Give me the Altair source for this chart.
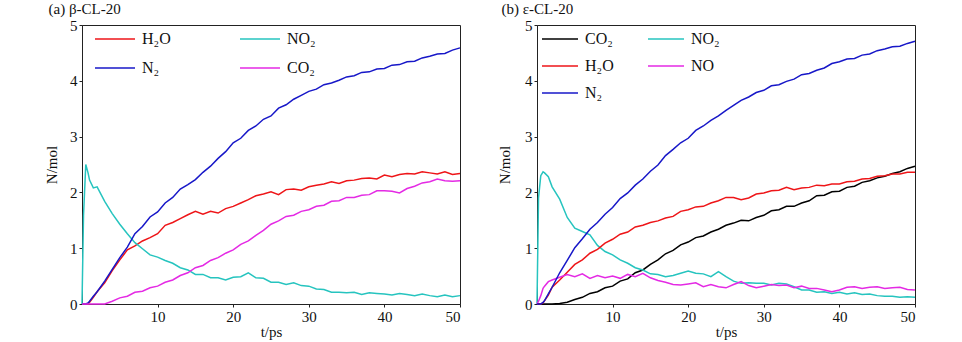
import altair as alt
import pandas as pd

# time grid (ps)
T = [0, 0.2, 0.5, 0.8, 1, 1.5, 2] + list(range(3, 51))

# ---- panel (a) beta-CL-20 ----
H2O_a = [0, 0, 0, 0, 0.03, 0.12, 0.22,
         0.38, 0.60, 0.79, 0.97, 1.04, 1.13, 1.19, 1.26, 1.41, 1.46,
         1.53, 1.60, 1.66, 1.61, 1.66, 1.63, 1.71, 1.75, 1.81, 1.87,
         1.94, 1.97, 2.01, 1.96, 2.05, 2.06, 2.04, 2.10, 2.13, 2.15,
         2.19, 2.16, 2.21, 2.22, 2.25, 2.26, 2.24, 2.31, 2.28, 2.32,
         2.34, 2.33, 2.37, 2.35, 2.33, 2.37, 2.32, 2.34]
N2_a = [0, 0, 0, 0.02, 0.05, 0.14, 0.22,
        0.41, 0.62, 0.83, 1.02, 1.26, 1.39, 1.56, 1.65, 1.81, 1.91,
        2.06, 2.14, 2.23, 2.36, 2.47, 2.61, 2.73, 2.89, 2.97, 3.11,
        3.19, 3.31, 3.37, 3.51, 3.57, 3.67, 3.74, 3.81, 3.85, 3.93,
        3.96, 4.01, 4.07, 4.09, 4.15, 4.16, 4.21, 4.22, 4.28, 4.29,
        4.34, 4.35, 4.41, 4.44, 4.48, 4.49, 4.55, 4.59]
NO2_a = [0, 1.58, 2.50, 2.35, 2.22, 2.08, 2.10,
         1.84, 1.62, 1.43, 1.26, 1.10, 0.99, 0.88, 0.84, 0.78, 0.73,
         0.65, 0.61, 0.53, 0.53, 0.47, 0.47, 0.43, 0.48, 0.49, 0.56,
         0.47, 0.46, 0.39, 0.39, 0.35, 0.38, 0.33, 0.32, 0.27, 0.26,
         0.21, 0.21, 0.20, 0.21, 0.17, 0.20, 0.19, 0.18, 0.16, 0.19,
         0.17, 0.15, 0.18, 0.15, 0.13, 0.16, 0.13, 0.15]
CO2_a = [0, 0, 0, 0, 0, 0, 0,
         0.00, 0.05, 0.11, 0.14, 0.21, 0.23, 0.29, 0.32, 0.39, 0.43,
         0.51, 0.56, 0.65, 0.69, 0.78, 0.83, 0.91, 0.97, 1.07, 1.13,
         1.23, 1.32, 1.43, 1.49, 1.57, 1.59, 1.66, 1.69, 1.75, 1.77,
         1.84, 1.85, 1.91, 1.91, 1.95, 1.96, 2.03, 2.03, 2.02, 1.99,
         2.07, 2.11, 2.17, 2.19, 2.24, 2.21, 2.20, 2.21]

# ---- panel (b) epsilon-CL-20 ----
CO2_b = [0, 0, 0, 0, 0, 0, 0,
         0.01, 0.03, 0.08, 0.12, 0.19, 0.22, 0.29, 0.32, 0.41, 0.45,
         0.56, 0.61, 0.71, 0.79, 0.90, 0.96, 1.06, 1.11, 1.19, 1.22,
         1.29, 1.34, 1.41, 1.45, 1.50, 1.49, 1.55, 1.59, 1.67, 1.69,
         1.75, 1.75, 1.81, 1.85, 1.94, 1.95, 2.01, 2.02, 2.09, 2.11,
         2.18, 2.21, 2.26, 2.29, 2.34, 2.37, 2.43, 2.47]
H2O_b = [0, 0, 0, 0.02, 0.06, 0.16, 0.30,
         0.43, 0.57, 0.71, 0.79, 0.91, 0.98, 1.09, 1.16, 1.25, 1.29,
         1.38, 1.41, 1.46, 1.49, 1.54, 1.57, 1.66, 1.69, 1.74, 1.75,
         1.81, 1.85, 1.91, 1.91, 1.87, 1.90, 1.97, 1.99, 2.03, 2.04,
         2.09, 2.05, 2.08, 2.09, 2.13, 2.12, 2.15, 2.15, 2.19, 2.20,
         2.24, 2.25, 2.29, 2.30, 2.33, 2.33, 2.36, 2.36]
N2_b = [0, 0, 0, 0.03, 0.06, 0.18, 0.30,
        0.56, 0.78, 1.01, 1.17, 1.34, 1.46, 1.61, 1.73, 1.89, 1.99,
        2.13, 2.24, 2.38, 2.49, 2.66, 2.77, 2.89, 2.97, 3.11, 3.19,
        3.29, 3.37, 3.47, 3.56, 3.65, 3.71, 3.79, 3.83, 3.91, 3.93,
        3.99, 4.03, 4.11, 4.13, 4.19, 4.23, 4.31, 4.34, 4.39, 4.40,
        4.46, 4.48, 4.54, 4.57, 4.61, 4.62, 4.67, 4.71]
NO2_b = [0, 1.90, 2.30, 2.37, 2.35, 2.28, 2.10,
         1.88, 1.55, 1.36, 1.30, 1.24, 1.05, 0.94, 0.88, 0.79, 0.73,
         0.65, 0.61, 0.54, 0.53, 0.49, 0.51, 0.55, 0.59, 0.55, 0.54,
         0.49, 0.58, 0.49, 0.41, 0.37, 0.38, 0.37, 0.37, 0.34, 0.37,
         0.36, 0.31, 0.25, 0.25, 0.21, 0.22, 0.19, 0.21, 0.18, 0.20,
         0.17, 0.18, 0.15, 0.14, 0.14, 0.12, 0.13, 0.12]
NO_b = [0, 0.05, 0.15, 0.28, 0.32, 0.40, 0.43,
        0.48, 0.53, 0.49, 0.54, 0.46, 0.51, 0.47, 0.50, 0.46, 0.53,
        0.49, 0.55, 0.47, 0.42, 0.39, 0.35, 0.34, 0.36, 0.38, 0.31,
        0.35, 0.31, 0.29, 0.35, 0.40, 0.33, 0.29, 0.32, 0.35, 0.33,
        0.34, 0.29, 0.32, 0.28, 0.28, 0.25, 0.22, 0.25, 0.30, 0.31,
        0.28, 0.30, 0.31, 0.28, 0.29, 0.30, 0.26, 0.25]

SERIES_A = {"H₂O": H2O_a, "NO₂": NO2_a, "N₂": N2_a, "CO₂": CO2_a}
SERIES_B = {"CO₂": CO2_b, "NO₂": NO2_b, "H₂O": H2O_b, "NO": NO_b, "N₂": N2_b}
COLORS = {"H₂O": "#ee1518", "N₂": "#1717c8", "NO₂": "#26c4bf",
          "CO₂_a": "#e42ae4", "CO₂_b": "#000000", "NO": "#e42ae4"}

FONT = "Liberation Serif"


def long(series):
    rows = []
    for name, vals in series.items():
        assert len(vals) == len(T), name
        for t, v in zip(T, vals):
            rows.append({"t": t, "n": v, "s": name})
    return pd.DataFrame(rows)


def panel(series, colors, title, col_pad, sym_size, leg_x, leg_y, y_title_pad):
    df = long(series)
    order = list(series.keys())
    return alt.Chart(df).mark_line(strokeWidth=1.5).encode(
        x=alt.X("t:Q", scale=alt.Scale(domain=[0, 50], nice=False),
                axis=alt.Axis(values=[10, 20, 30, 40, 50], title="t/ps",
                              titlePadding=0)),
        y=alt.Y("n:Q", scale=alt.Scale(domain=[0, 5], nice=False),
                axis=alt.Axis(values=[0, 1, 2, 3, 4, 5], title="N/mol",
                              titlePadding=y_title_pad)),
        color=alt.Color("s:N", sort=order,
                        scale=alt.Scale(domain=order, range=colors),
                        legend=alt.Legend(orient="none", legendX=leg_x, legendY=leg_y,
                                          direction="horizontal",
                                          columns=2, title=None, padding=0,
                                          symbolType="stroke", symbolSize=sym_size,
                                          symbolStrokeWidth=1.6,
                                          labelFontSize=16, labelFont=FONT,
                                          labelColor="#111",
                                          labelOffset=6, columnPadding=col_pad,
                                          rowPadding=0)),
        order=alt.Order("t:Q"),
    ).properties(
        width=378, height=279,
        title=alt.TitleParams(title, anchor="start", fontSize=15, font=FONT,
                              fontWeight="normal", offset=1, dx=4, color="#111"),
    )


left = panel(SERIES_A,
             [COLORS["H₂O"], COLORS["NO₂"], COLORS["N₂"], COLORS["CO₂_a"]],
             "(a) β-CL-20", 65, 1600, 12, -7, 10)
right = panel(SERIES_B,
              [COLORS["CO₂_b"], COLORS["NO₂"], COLORS["H₂O"], COLORS["NO"], COLORS["N₂"]],
              "(b) ε-CL-20", 30, 1296, 4, -5, 12)

chart = alt.hconcat(left, right, spacing=33, background="white").resolve_scale(
    color="independent"
).properties(
    padding={"left": 44, "top": 1, "right": 5, "bottom": 0}
).configure_view(stroke="#222", strokeWidth=1).configure_axis(
    grid=False, domainColor="#222", tickColor="#222", tickSize=3,
    labelFont=FONT, labelFontSize=15, labelColor="#111",
    titleFont=FONT, titleFontSize=15, titleFontWeight="normal", titleColor="#111",
    labelPadding=2,
)

chart.save("out.html", embed_options={"renderer": "svg", "actions": False})
